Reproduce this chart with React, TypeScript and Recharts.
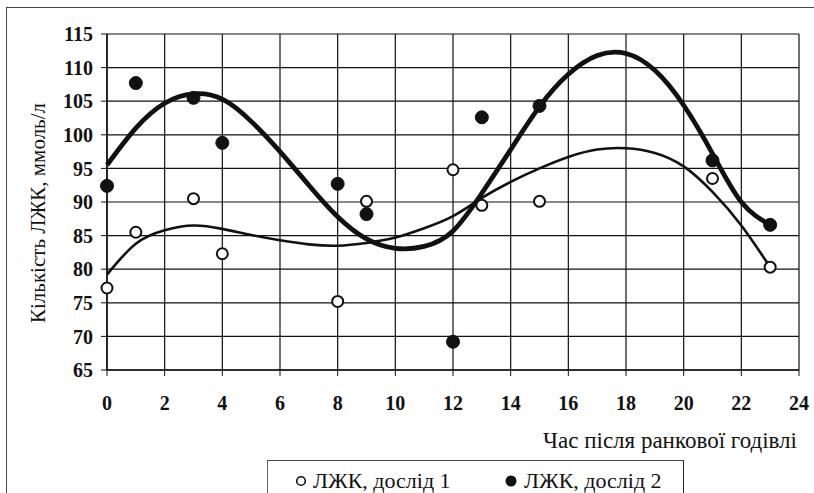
import React from 'react';
import { ComposedChart, Scatter, Line, XAxis, YAxis, CartesianGrid } from 'recharts';

// Hours after morning feeding for the measured points
const hours = [0, 1, 3, 4, 8, 9, 12, 13, 15, 21, 23];
const vfa1 = [77.2, 85.5, 90.5, 82.3, 75.2, 90.1, 94.8, 89.5, 90.1, 93.5, 80.3];
const vfa2 = [92.4, 107.7, 105.5, 98.8, 92.7, 88.2, 69.2, 102.6, 104.3, 96.2, 86.6];

// Trend curves at each hour
const trendHours = [0, 1, 2, 3, 4, 5, 6, 7, 8, 9, 10, 11, 12, 13, 14, 15, 16, 17, 18, 19, 20, 21, 22, 23];
const trend1 = [79.2, 83.8, 85.8, 86.5, 86.0, 85.1, 84.3, 83.7, 83.5, 83.9, 84.7, 86.1, 87.9, 90.6, 93.0, 95.0, 96.7, 97.8, 98.0, 97.3, 95.3, 91.5, 86.5, 80.3];
const trend2 = [95.5, 101.0, 104.7, 106.1, 105.3, 102.0, 97.5, 92.5, 87.8, 84.5, 83.1, 83.4, 85.7, 91.3, 97.8, 104.2, 109.0, 111.8, 112.1, 109.6, 104.4, 97.2, 90.0, 86.6];

const xTicks = [0, 2, 4, 6, 8, 10, 12, 14, 16, 18, 20, 22, 24];
const yTicks = [65, 70, 75, 80, 85, 90, 95, 100, 105, 110, 115];

const FONT = '"Liberation Serif", Tinos, "Times New Roman", Times, "DejaVu Serif", serif';
const INK = '#111';

const points1 = hours.map((h, i) => ({ x: h, y: vfa1[i] }));
const points2 = hours.map((h, i) => ({ x: h, y: vfa2[i] }));
const curve1 = trendHours.map((h, i) => ({ x: h, y: trend1[i] }));
const curve2 = trendHours.map((h, i) => ({ x: h, y: trend2[i] }));

const OpenDot = (props: any) => (
  <circle cx={props.cx} cy={props.cy} r={5.5} fill="#fff" stroke={INK} strokeWidth={2} />
);
const FilledDot = (props: any) => (
  <circle cx={props.cx} cy={props.cy} r={6.5} fill={INK} stroke={INK} strokeWidth={1} />
);

export default function App() {
  const tickStyle = { fontSize: 20, fontWeight: 700, fill: INK, fontFamily: FONT };
  return (
    <div style={{ position: 'fixed', left: 0, top: 0, width: 814, height: 493, background: '#fff', overflow: 'hidden', fontFamily: FONT, color: INK }}>
      <div style={{ position: 'absolute', left: 6, top: 7, width: 820, height: 500, borderTop: '1px solid #444', borderLeft: '1px solid #444' }} />

      <ComposedChart
        width={814}
        height={493}
        margin={{ top: 34, right: 15, bottom: 73, left: 45 }}
        style={{ position: 'absolute', left: 0, top: 0, fontFamily: FONT }}
      >
        <CartesianGrid stroke={INK} strokeWidth={1.2} />
        <XAxis
          type="number"
          dataKey="x"
          domain={[0, 24]}
          ticks={xTicks}
          interval={0}
          height={50}
          tickSize={6}
          tickMargin={20}
          tick={tickStyle}
          axisLine={{ stroke: INK, strokeWidth: 1.5 }}
          tickLine={{ stroke: INK }}
        />
        <YAxis
          type="number"
          dataKey="y"
          domain={[65, 115]}
          ticks={yTicks}
          interval={0}
          width={62}
          tickSize={6}
          tickMargin={8}
          tick={tickStyle}
          axisLine={{ stroke: INK, strokeWidth: 1.5 }}
          tickLine={{ stroke: INK }}
        />
        <Line data={curve1} dataKey="y" type="natural" stroke={INK} strokeWidth={2.6} dot={false} activeDot={false} isAnimationActive={false} />
        <Line data={curve2} dataKey="y" type="natural" stroke={INK} strokeWidth={4.8} dot={false} activeDot={false} isAnimationActive={false} />
        <Scatter data={points1} dataKey="y" shape={OpenDot} isAnimationActive={false} />
        <Scatter data={points2} dataKey="y" shape={FilledDot} isAnimationActive={false} />
      </ComposedChart>

      <div style={{ position: 'absolute', left: 38, top: 213, transform: 'translate(-50%, -50%) rotate(-90deg)', whiteSpace: 'nowrap', fontSize: 21, lineHeight: 1 }}>
        Кількість ЛЖК, ммоль/л
      </div>

      <div style={{ position: 'absolute', right: 17, top: 429, whiteSpace: 'nowrap', fontSize: 23, lineHeight: 1 }}>
        Час після ранкової годівлі
      </div>

      <div style={{ position: 'absolute', left: 267, top: 460, width: 417, height: 40, borderTop: '1px solid #444', borderLeft: '1px solid #666', borderRight: '1.5px solid #222', boxSizing: 'border-box' }}>
        <svg width={12} height={12} style={{ position: 'absolute', left: 27, top: 14 }}>
          <circle cx={6} cy={6} r={4.3} fill="#fff" stroke={INK} strokeWidth={1.6} />
        </svg>
        <div style={{ position: 'absolute', left: 45, top: 9, fontSize: 22, lineHeight: 1, whiteSpace: 'nowrap' }}>
          ЛЖК, дослід 1
        </div>
        <svg width={12} height={12} style={{ position: 'absolute', left: 237, top: 14 }}>
          <circle cx={6} cy={6} r={5.5} fill={INK} />
        </svg>
        <div style={{ position: 'absolute', left: 256, top: 9, fontSize: 22, lineHeight: 1, whiteSpace: 'nowrap' }}>
          ЛЖК, дослід 2
        </div>
      </div>
    </div>
  );
}
